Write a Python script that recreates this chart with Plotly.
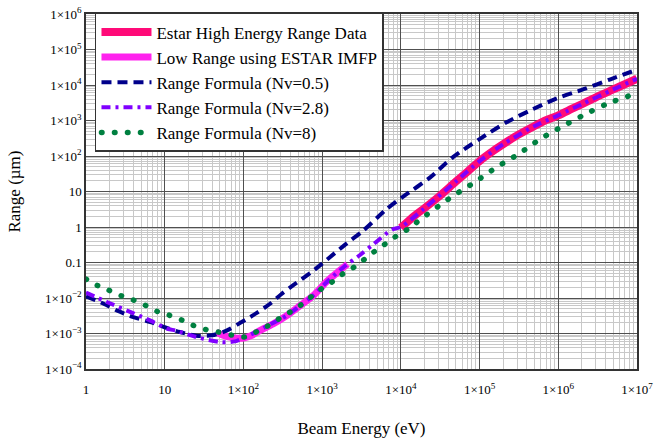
import plotly.graph_objects as go

# ---------------- data ----------------
estar_high_x = [1e4, 1.5e4, 2e4, 3e4, 5e4, 7e4, 1e5, 1.5e5, 2e5, 3e5, 5e5, 7e5, 1e6, 1.5e6, 2e6, 3e6, 5e6, 7e6, 1e7]
estar_high_y = [0.95, 2.1, 3.4, 7.0, 19, 36, 72, 140, 215, 380, 700, 1020, 1400, 2150, 2900, 4500, 7500, 10500, 15000]

low_range_x = [45, 55, 70, 100, 130, 160, 237, 355, 525, 770, 1180, 1600, 2100]
low_range_y = [1.1e-3, 9.0e-4, 7.8e-4, 7.4e-4, 9.0e-4, 1.2e-3, 1.85e-3, 3.2e-3, 6.1e-3, 1.17e-2, 3.1e-2, 5.5e-2, 9.0e-2]

nv05_x = [1, 1.7, 2.5, 4, 6.6, 10, 15.6, 25, 40, 61, 95, 148, 220, 305, 430, 775, 1000, 2000, 3300, 6600, 1.07e4, 2.36e4, 4.6e4, 1e5, 2.2e5, 4.8e5, 9.6e5, 2.1e6, 4.6e6, 1e7]
nv05_y = [1.12e-2, 6.8e-3, 4.4e-3, 2.9e-3, 2.1e-3, 1.5e-3, 1.1e-3, 8.7e-4, 8.9e-4, 1.2e-3, 2.1e-3, 3.8e-3, 7.0e-3, 1.3e-2, 2.3e-2, 5.9e-2, 9.3e-2, 0.33, 0.78, 3.2, 7.2, 25, 93, 300, 890, 2100, 4200, 7600, 14500, 27000]

nv28_x = [1, 1.87, 3.7, 6.6, 10.8, 14, 25, 53, 78, 100, 150, 220, 355, 525, 770, 1180, 1950, 3000, 4500, 7800, 1e4, 2e4, 5e4, 1e5, 2e5, 5e5, 1e6, 2e6, 5e6, 1e7]
nv28_y = [1.42e-2, 7.6e-3, 4.0e-3, 2.3e-3, 1.36e-3, 1.2e-3, 8.0e-4, 5.7e-4, 6.0e-4, 7.5e-4, 1.15e-3, 1.8e-3, 3.2e-3, 6.1e-3, 1.17e-2, 3.0e-2, 8.0e-2, 0.16, 0.33, 0.85, 1.0, 3.4, 19, 72, 215, 700, 1400, 2900, 7500, 15000]

nv8_x = [1, 1.37, 1.9, 2.76, 3.85, 5.7, 8, 11.3, 16.4, 23, 33, 48, 71, 105, 150, 210, 290, 405, 560, 770, 1040, 1450, 1950, 2750, 3700, 5100, 6900, 9200, 1.3e4, 1.75e4, 4.4e4, 8.7e4, 1.66e5, 3.1e5, 5.9e5, 1.1e6, 2.2e6, 4.1e6, 1e7]
nv8_y = [3.4e-2, 2.3e-2, 1.7e-2, 1.17e-2, 9.1e-3, 6.2e-3, 4.2e-3, 3.3e-3, 2.4e-3, 1.7e-3, 1.3e-3, 1.1e-3, 9.0e-4, 8.0e-4, 1.15e-3, 1.7e-3, 2.7e-3, 4.2e-3, 6.8e-3, 1.2e-2, 2.0e-2, 3.2e-2, 5.3e-2, 8.2e-2, 0.14, 0.24, 0.38, 0.6, 0.94, 1.6, 7.0, 18.4, 49, 112, 300, 660, 1500, 2900, 5900]

x_tickvals = [1, 10, 1e2, 1e3, 1e4, 1e5, 1e6, 1e7]
x_ticktext = ["1", "10", "1×10<sup>2</sup>", "1×10<sup>3</sup>", "1×10<sup>4</sup>",
              "1×10<sup>5</sup>", "1×10<sup>6</sup>", "1×10<sup>7</sup>"]
y_tickvals = [1e-4, 1e-3, 1e-2, 0.1, 1, 10, 1e2, 1e3, 1e4, 1e5, 1e6]
y_ticktext = ["1×10<sup>−4</sup>", "1×10<sup>−3</sup>", "1×10<sup>−2</sup>", "0.1", "1", "10",
              "1×10<sup>2</sup>", "1×10<sup>3</sup>", "1×10<sup>4</sup>", "1×10<sup>5</sup>", "1×10<sup>6</sup>"]

x_minor = [m * 10 ** d for d in range(0, 7) for m in range(2, 10)]
y_minor = [m * 10.0 ** d for d in range(-4, 6) for m in range(2, 10)]

FONT = "Liberation Serif"

fig = go.Figure()
fig.add_trace(go.Scatter(x=estar_high_x, y=estar_high_y, mode="lines",
                         name="Estar High Energy Range Data",
                         line=dict(color="#ff0a78", width=8, shape="spline", smoothing=0.8)))
fig.add_trace(go.Scatter(x=low_range_x, y=low_range_y, mode="lines",
                         name="Low Range using ESTAR IMFP",
                         line=dict(color="#ff22ee", width=7, shape="spline", smoothing=0.8)))
fig.add_trace(go.Scatter(x=nv05_x, y=nv05_y, mode="lines",
                         name="Range Formula (Nv=0.5)",
                         line=dict(color="#00008b", width=4, dash="10px,6px", shape="spline", smoothing=0.8)))
fig.add_trace(go.Scatter(x=nv28_x, y=nv28_y, mode="lines",
                         name="Range Formula (Nv=2.8)",
                         line=dict(color="#8000ff", width=4, dash="9px,5px,3px,5px", shape="spline", smoothing=0.8)))
fig.add_trace(go.Scatter(x=nv8_x, y=nv8_y, mode="lines",
                         name="Range Formula (Nv=8)",
                         line=dict(color="#008040", width=5.5, dash="0.5px,12.5px", shape="spline", smoothing=0.8)))

axis_common = dict(
    type="log", showline=True, mirror=True, linecolor="#333333", linewidth=1.5,
    showgrid=True, gridcolor="#505050", gridwidth=1, ticks="", zeroline=False,
    automargin=False,
    tickfont=dict(family=FONT, size=13, color="black"),
)

fig.update_xaxes(**axis_common, range=[0, 7], tickmode="array", tickvals=x_tickvals, ticktext=x_ticktext,
                 ticklabelstandoff=8,
                 minor=dict(tickmode="array", tickvals=x_minor, showgrid=True, gridcolor="#c8c8c8", gridwidth=1, ticks=""),
                 title=dict(text="Beam Energy (eV)", font=dict(family=FONT, size=17, color="black"), standoff=26))
fig.update_yaxes(**axis_common, range=[-4, 6], tickmode="array", tickvals=y_tickvals, ticktext=y_ticktext,
                 minor=dict(tickmode="array", tickvals=y_minor, showgrid=True, gridcolor="#c8c8c8", gridwidth=1, ticks=""),
                 title=dict(text="Range (µm)", font=dict(family=FONT, size=17, color="black"), standoff=20))

fig.update_layout(
    width=655, height=440,
    margin=dict(l=86, r=18, t=14, b=71, autoexpand=False),
    paper_bgcolor="white", plot_bgcolor="white",
    font=dict(family=FONT, color="black"),
    showlegend=True,
    legend=dict(x=0.0163, y=1.003, xanchor="left", yanchor="top",
                bgcolor="white", bordercolor="#333333", borderwidth=1.5,
                font=dict(family=FONT, size=17, color="black"),
                itemwidth=50, tracegroupgap=0),
)

post = """
var gd = document.getElementById('{plot_id}');
function roundDots(){
  gd.querySelectorAll('path.js-line').forEach(function(p){
    var d = p.style.strokeDasharray || '';
    if (d.indexOf('0.5px') === 0) { p.style.strokeLinecap = 'round'; }
  });
}
roundDots();
if (gd.on) { gd.on('plotly_afterplot', roundDots); }
"""

fig.write_html("out.html", post_script=post)
